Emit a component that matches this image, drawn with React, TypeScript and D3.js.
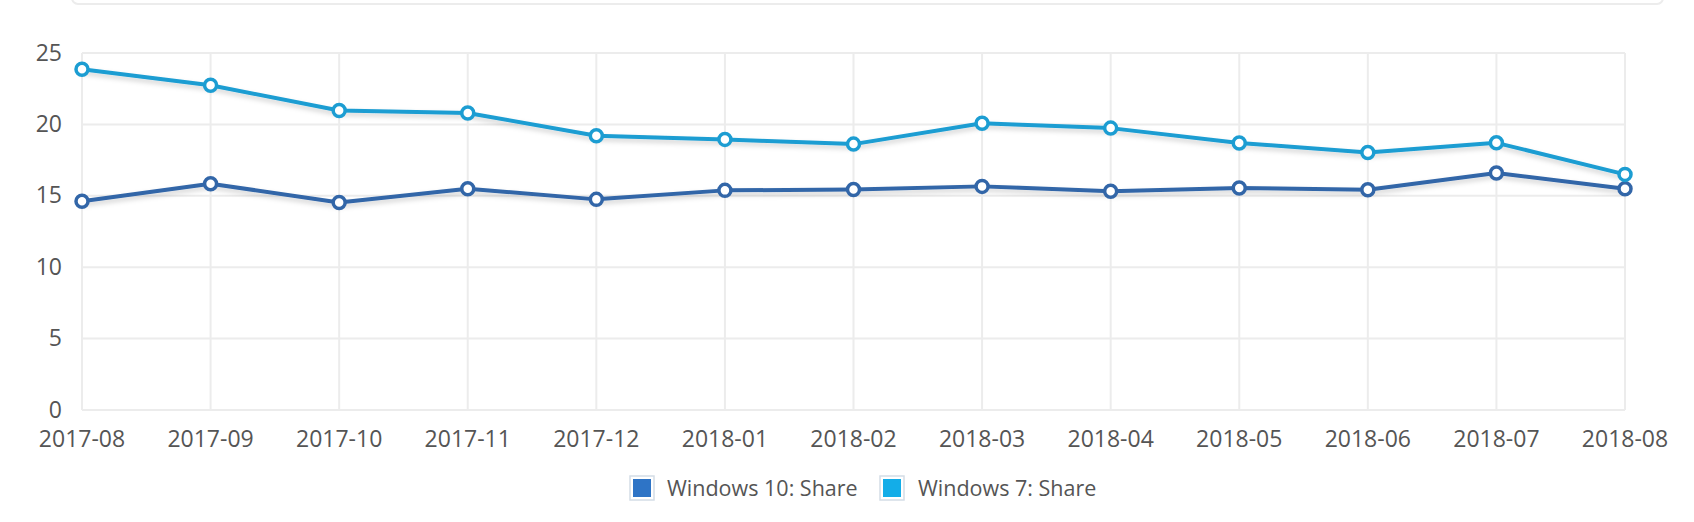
import { useRef, useEffect } from 'react';
import * as d3 from 'd3';

const months = [
  '2017-08', '2017-09', '2017-10', '2017-11', '2017-12', '2018-01', '2018-02',
  '2018-03', '2018-04', '2018-05', '2018-06', '2018-07', '2018-08'
];
const win10Share = [14.62, 15.85, 14.53, 15.5, 14.75, 15.38, 15.44, 15.66, 15.32, 15.54, 15.43, 16.6, 15.5];
const win7Share = [23.86, 22.74, 20.97, 20.8, 19.2, 18.95, 18.62, 20.08, 19.74, 18.7, 18.03, 18.71, 16.5];
const yTicks = [0, 5, 10, 15, 20, 25];
const seriesNames = ['Windows 10: Share', 'Windows 7: Share'];

const WIDTH = 1694;
const HEIGHT = 522;

const App: React.FC = () => {
  const svgRef = useRef<SVGSVGElement>(null);

  useEffect(() => {
    if (!svgRef.current) return;
    const svg = d3.select(svgRef.current);
    svg.selectAll('*').remove();

    const margin = { top: 53, right: 69, bottom: 112, left: 82 };
    const x = d3.scalePoint<string>()
      .domain(months)
      .range([margin.left, WIDTH - margin.right]);
    const y = d3.scaleLinear()
      .domain([0, 25])
      .range([HEIGHT - margin.bottom, margin.top]);

    const font = "'Open Sans', sans-serif";
    const textColor = '#555555';

    // Shadow for the lines
    const defs = svg.append('defs');
    const filter = defs.append('filter')
      .attr('id', 'lineShadow')
      .attr('x', '-5%').attr('y', '-50%')
      .attr('width', '110%').attr('height', '200%');
    filter.append('feDropShadow')
      .attr('dx', 0).attr('dy', 3)
      .attr('stdDeviation', 2.5)
      .attr('flood-color', '#000')
      .attr('flood-opacity', 0.18);

    // Edge of the card above
    svg.append('rect')
      .attr('x', 72).attr('y', -30)
      .attr('width', 1591).attr('height', 34)
      .attr('rx', 6)
      .attr('fill', 'none')
      .attr('stroke', '#ececec')
      .attr('stroke-width', 2);

    // Grid
    const grid = svg.append('g');
    grid.selectAll('.hgrid')
      .data(yTicks)
      .enter()
      .append('line')
      .attr('x1', margin.left)
      .attr('x2', WIDTH - margin.right)
      .attr('y1', d => y(d))
      .attr('y2', d => y(d))
      .attr('stroke', '#ececec')
      .attr('stroke-width', 2);
    grid.selectAll('.vgrid')
      .data(months)
      .enter()
      .append('line')
      .attr('x1', d => x(d)!)
      .attr('x2', d => x(d)!)
      .attr('y1', y(25))
      .attr('y2', y(0))
      .attr('stroke', '#ececec')
      .attr('stroke-width', 2);

    // Y labels
    svg.append('g').selectAll('text')
      .data(yTicks)
      .enter()
      .append('text')
      .attr('x', 62)
      .attr('y', d => y(d))
      .attr('dy', '0.33em')
      .attr('text-anchor', 'end')
      .attr('font-family', font)
      .attr('font-size', '23px')
      .attr('fill', textColor)
      .text(d => d);

    // X labels
    svg.append('g').selectAll('text')
      .data(months)
      .enter()
      .append('text')
      .attr('x', d => x(d)!)
      .attr('y', 447)
      .attr('text-anchor', 'middle')
      .attr('font-family', font)
      .attr('font-size', '23px')
      .attr('fill', textColor)
      .text(d => d);

    const series = [
      { name: seriesNames[0], values: win10Share, color: '#3266a8', swatch: '#2e74c6' },
      { name: seriesNames[1], values: win7Share, color: '#1c9dd2', swatch: '#13ade8' }
    ];

    const line = d3.line<number>()
      .x((d, i) => x(months[i])!)
      .y(d => y(d));

    series.forEach(s => {
      const g = svg.append('g');
      g.append('path')
        .datum(s.values)
        .attr('d', line)
        .attr('fill', 'none')
        .attr('stroke', s.color)
        .attr('stroke-width', 4)
        .attr('stroke-linejoin', 'round')
        .attr('filter', 'url(#lineShadow)');
      g.selectAll('circle')
        .data(s.values)
        .enter()
        .append('circle')
        .attr('cx', (d, i) => x(months[i])!)
        .attr('cy', d => y(d))
        .attr('r', 6)
        .attr('fill', '#fff')
        .attr('stroke', s.color)
        .attr('stroke-width', 3.5);
    });

    // Legend
    const legendItems = [
      { x: 630, textX: 667 },
      { x: 880, textX: 918 }
    ];
    const legend = svg.append('g');
    series.forEach((s, i) => {
      const item = legendItems[i];
      legend.append('rect')
        .attr('x', item.x)
        .attr('y', 476)
        .attr('width', 24)
        .attr('height', 24)
        .attr('fill', '#fff')
        .attr('stroke', '#d4dde6')
        .attr('stroke-width', 1.5);
      legend.append('rect')
        .attr('x', item.x + 3)
        .attr('y', 479)
        .attr('width', 18)
        .attr('height', 18)
        .attr('fill', s.swatch);
      legend.append('text')
        .attr('x', item.textX)
        .attr('y', 488)
        .attr('dy', '0.36em')
        .attr('font-family', font)
        .attr('font-size', '21.5px')
        .attr('fill', textColor)
        .text(s.name);
    });
  }, []);

  return (
    <div style={{ position: 'absolute', left: 0, top: 0, background: '#fff' }}>
      <svg ref={svgRef} width={WIDTH} height={HEIGHT} style={{ display: 'block' }} />
    </div>
  );
};

export default App;
